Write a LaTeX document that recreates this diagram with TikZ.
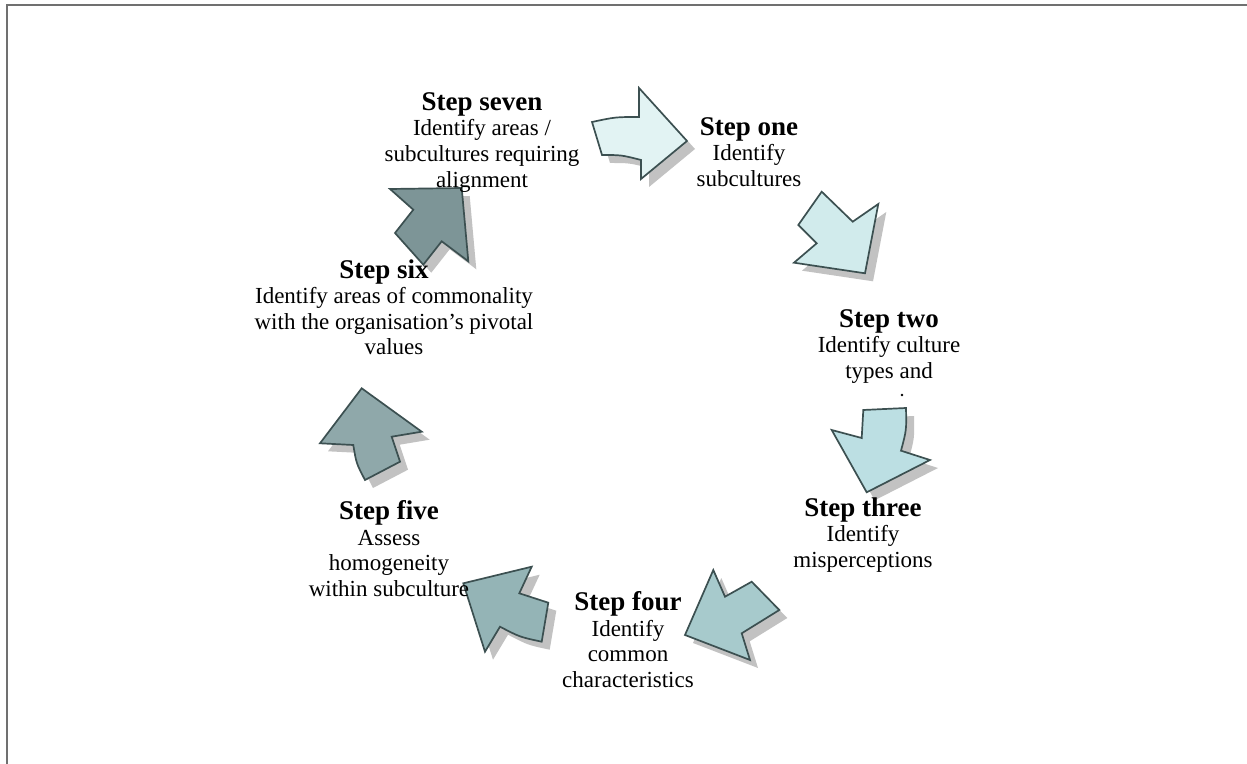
\documentclass[tikz,border=0pt]{standalone}
\usepackage{fontspec}
\setmainfont{Liberation Serif}
\definecolor{edgecol}{HTML}{3C5051}
\definecolor{shadowcol}{HTML}{C2C2C2}
\definecolor{framecol}{HTML}{707070}
\definecolor{fillA}{HTML}{E2F3F3}
\definecolor{fillB}{HTML}{D1EBEC}
\definecolor{fillC}{HTML}{BCDFE3}
\definecolor{fillD}{HTML}{A7CACC}
\definecolor{fillE}{HTML}{94B4B6}
\definecolor{fillF}{HTML}{8FA8AA}
\definecolor{fillG}{HTML}{7D9597}
% block arrow with its drop shadow
\newcommand\cyclearrow[2]{%
  \fill[dropshadow,shift={(8,8)}] #2;
  \filldraw[fill=#1,arrowline] #2;}
% bold step heading
\newcommand\stephead[1]{{\fontsize{13.5}{15}\selectfont\bfseries #1}}
\begin{document}
\begin{tikzpicture}[x=0.5pt,y=-0.5pt,
  arrowline/.style={draw=edgecol,line width=0.85pt,line join=miter},
  dropshadow/.style={fill=shadowcol},
  steplabel/.style={align=center,inner sep=0pt,anchor=north,
    font=\fontsize{11.5}{12.8}\selectfont},
  frameline/.style={draw=framecol,line width=1pt}]
\useasboundingbox (0,0) rectangle (1247,764);
\draw[frameline] (1247,5.5) -- (6.5,5.5) -- (6.5,764);

% arrows around the cycle
\cyclearrow{fillA}{(592,122) .. controls (615.4,117) .. (639,117) -- (639,88) -- (687,141)
  -- (641,179) -- (641,160) .. controls (621.4,155) .. (602,155) -- cycle}
\cyclearrow{fillB}{(821.7,191.7) -- (852.7,221.7) -- (878.3,204)
  -- (865,273.3) -- (794,262.7) -- (816.7,243.3) -- (798.3,225) -- cycle}
\cyclearrow{fillC}{(863.3,410) -- (906,408) .. controls (906.5,430) .. (901,450.7)
  -- (930,460) -- (866.7,492.3) -- (831.7,430) -- (861.7,438) -- cycle}
\cyclearrow{fillD}{(685,635) -- (713.3,570) -- (725,596.7) -- (751.7,581.7)
  -- (779.3,610) -- (741.7,633.3) -- (750,660) -- cycle}
\cyclearrow{fillE}{(463.3,583.3) -- (531.7,566.7) -- (519.3,593.3) -- (548.3,602.7)
  -- (541.7,641.7) .. controls (519.7,637) .. (500,626.7) -- (485,651.7) -- cycle}
\cyclearrow{fillF}{(361.7,388.3) -- (421.7,431.7) -- (391.7,436.7) -- (400,461.7)
  -- (365,480) .. controls (356.3,463.3) .. (353.3,445) -- (320,443.3) -- cycle}
\cyclearrow{fillG}{(461.7,188) -- (390,189) -- (413.3,209.7) -- (395,233)
  -- (423.3,264.7) -- (441.7,241.3) -- (468.3,261.3) -- cycle}

% step texts
\node[steplabel] (seven) at (482,92) {\stephead{Step seven}\\Identify areas /\\subcultures requiring\\alignment};
\node[steplabel] (one) at (749,117) {\stephead{Step one}\\Identify\\subcultures};
\node[steplabel] (two) at (889,309) {\stephead{Step two}\\Identify culture\\types and};
\fill (902,395) circle (1.3) coordinate (twodot);
\node[steplabel] (three) at (863,497) {\stephead{Step three}\\Identify\\misperceptions};
\node[steplabel] (four) at (628,591) {\stephead{Step four}\\Identify\\common\\characteristics};
\node[steplabel] (five) at (389,500) {\stephead{Step five}\\Assess\\homogeneity\\within subculture};
\node[steplabel] (six) at (394,259) {\stephead{Step six}\hspace*{10pt}\\Identify areas of commonality\\with the organisation’s pivotal\\values};
\end{tikzpicture}
\end{document}
